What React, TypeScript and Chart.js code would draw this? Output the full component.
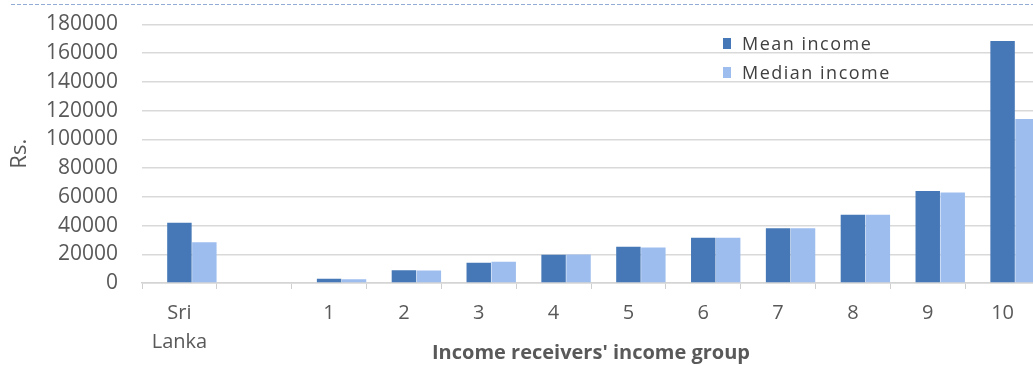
import React, { useEffect, useRef } from "react";
import { Chart, registerables } from "chart.js";

Chart.register(...registerables);

const categories: (string | string[])[] = [["Sri", "Lanka"], "", "1", "2", "3", "4", "5", "6", "7", "8", "9", "10"];
const meanIncome: (number | null)[] = [41900, null, 3000, 8800, 14100, 19700, 25200, 31500, 38200, 47500, 64100, 168500];
const medianIncome: (number | null)[] = [28300, null, 2600, 8700, 14800, 19900, 24800, 31500, 38200, 47500, 63000, 114200];
const spacer: (number | null)[] = categories.map(() => null);
const seriesNames = ["Mean income", "Median income"];
const seriesColors = ["#4678b7", "#9dbdee"];

export default function App() {
  const ref = useRef<HTMLCanvasElement | null>(null);
  useEffect(() => {
    if (!ref.current) return;
    const chart = new Chart(ref.current, {
      type: "bar",
      data: {
        labels: categories,
        datasets: [
          { label: "", data: spacer, backgroundColor: "rgba(0,0,0,0)" },
          { label: seriesNames[0], data: meanIncome, backgroundColor: seriesColors[0] },
          { label: seriesNames[1], data: medianIncome, backgroundColor: seriesColors[1] },
        ],
      },
      options: {
        responsive: false,
        animation: false,
        layout: { padding: { top: 24.5, right: 10, bottom: 0, left: 0 } },
        datasets: { bar: { categoryPercentage: 1, barPercentage: 0.98 } },
        plugins: { legend: { display: false }, tooltip: { enabled: false } },
        scales: {
          x: {
            offset: true,
            grid: { offset: true, drawOnChartArea: false, drawTicks: true, tickLength: 6, color: "#cfcfcf" },
            border: { display: true, color: "#d4d4d4", width: 1.5 },
            ticks: {
              color: "#595959",
              font: { family: "Open Sans", size: 20, lineHeight: 1.45 },
              padding: 10,
              maxRotation: 0,
              autoSkip: false,
            },
            title: {
              display: true,
              text: "Income receivers' income group",
              color: "#595959",
              font: { family: "Open Sans", size: 20, weight: "bold", lineHeight: 1.2 },
              padding: { top: 0, bottom: 0 },
            },
            afterFit: (axis: any) => {
              axis.height = 82;
            },
          },
          y: {
            min: 0,
            max: 180000,
            ticks: {
              stepSize: 20000,
              autoSkip: false,
              color: "#595959",
              font: { family: "Open Sans", size: 21 },
              padding: 24,
              callback: (v: any) => String(v),
            },
            grid: { color: "#d9d9d9", lineWidth: 1.5, drawTicks: false },
            border: { display: false },
            title: {
              display: true,
              text: "Rs.",
              color: "#595959",
              font: { family: "Open Sans", size: 22, lineHeight: 1.2 },
              padding: { top: 7, bottom: 0 },
            },
            afterFit: (axis: any) => {
              axis.width = 142;
              axis.paddingTop = 0;
              axis.paddingBottom = 0;
            },
          },
        },
      },
    });
    return () => chart.destroy();
  }, []);

  const legendText: React.CSSProperties = {
    position: "absolute",
    left: 742,
    fontFamily: "Open Sans",
    fontSize: 18,
    lineHeight: "18px",
    letterSpacing: "1.5px",
    color: "#404040",
    whiteSpace: "nowrap",
  };
  const marker: React.CSSProperties = { position: "absolute", left: 723, width: 8, height: 11 };

  return (
    <div style={{ position: "fixed", left: 0, top: 0, width: 1033, height: 365, overflow: "hidden", background: "#fff" }}>
      <div
        style={{
          position: "absolute",
          left: 11,
          top: 4,
          width: 1022,
          height: 1,
          background: "repeating-linear-gradient(to right, #93acd6 0 4px, transparent 4px 6px)",
        }}
      />
      <canvas ref={ref} width={1050} height={365} style={{ position: "absolute", left: 0, top: 0, width: 1050, height: 365 }} />
      <div style={{ ...marker, top: 38, background: seriesColors[0] }} />
      <div style={{ ...legendText, top: 34 }}>{seriesNames[0]}</div>
      <div style={{ ...marker, top: 67, background: seriesColors[1] }} />
      <div style={{ ...legendText, top: 63 }}>{seriesNames[1]}</div>
    </div>
  );
}
